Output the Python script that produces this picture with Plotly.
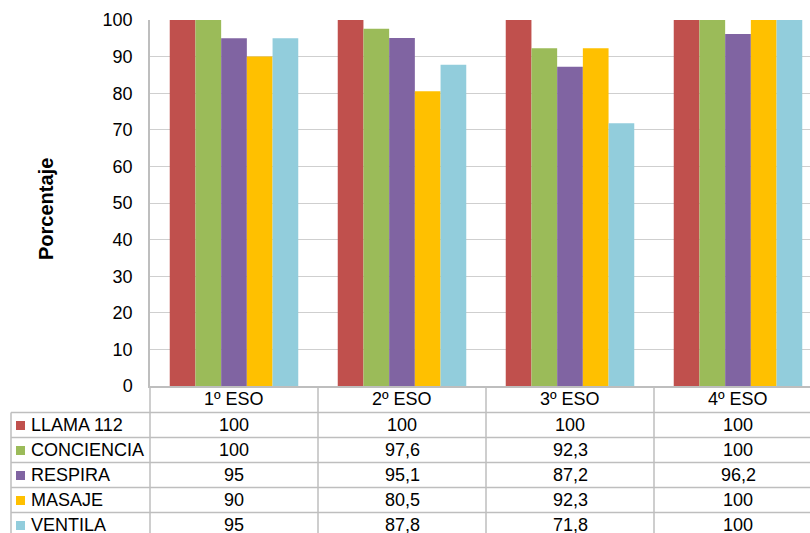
import plotly.graph_objects as go

# Data
cursos = ["1º ESO", "2º ESO", "3º ESO", "4º ESO"]
llama_112 = [100, 100, 100, 100]
conciencia = [100, 97.6, 92.3, 100]
respira = [95, 95.1, 87.2, 96.2]
masaje = [90, 80.5, 92.3, 100]
ventila = [95, 87.8, 71.8, 100]

series_names = ["LLAMA 112", "CONCIENCIA", "RESPIRA", "MASAJE", "VENTILA"]
series_values = [llama_112, conciencia, respira, masaje, ventila]
series_colors = ["#C0504D", "#9BBB59", "#8064A2", "#FFC000", "#92CDDC"]

FONT = "Liberation Sans, Arial, sans-serif"
GRID = "#CFCFCF"
LINE = "#BEBEBE"

# Page geometry (pixels)
W, H = 810, 533
L, T, B = 150, 20, 147
plot_w = W - L
plot_h = H - T - B
cat_w = 168                      # width of one category column
x_max = -0.5 + plot_w / cat_w    # last column runs past the right edge


def fx(px):
    return (px - L) / plot_w


def fy(py):
    return (H - B - py) / plot_h


def fmt(v):
    s = f"{v:g}"
    return s.replace(".", ",")


fig = go.Figure()
for name, vals, col in zip(series_names, series_values, series_colors):
    fig.add_trace(go.Bar(
        x=list(range(len(cursos))), y=vals, name=name,
        marker=dict(color=col, line=dict(width=0)),
    ))

shapes = []
annotations = []

# Table geometry
axis_y = H - B                 # baseline / top of header row
header_bottom = 412.5
row_h = 25
table_left = 11
n_rows = len(series_names)
table_bottom = header_bottom + row_h * n_rows

# vertical column boundaries
for i in range(len(cursos) + 1):
    xb = L + i * cat_w
    shapes.append(dict(type="line", xref="paper", yref="paper",
                       x0=fx(xb), x1=fx(xb), y0=fy(axis_y), y1=fy(table_bottom),
                       line=dict(color=LINE, width=1.5)))
shapes.append(dict(type="line", xref="paper", yref="paper",
                   x0=fx(table_left), x1=fx(table_left),
                   y0=fy(header_bottom), y1=fy(table_bottom),
                   line=dict(color=LINE, width=1.5)))
# horizontal row boundaries
for k in range(n_rows + 1):
    yb = header_bottom + k * row_h
    shapes.append(dict(type="line", xref="paper", yref="paper",
                       x0=fx(table_left), x1=fx(L + len(cursos) * cat_w),
                       y0=fy(yb), y1=fy(yb),
                       line=dict(color=LINE, width=1.5)))

# header: category names
for i, c in enumerate(cursos):
    annotations.append(dict(xref="paper", yref="paper",
                            x=fx(L + (i + 0.5) * cat_w), y=fy((axis_y + header_bottom) / 2),
                            text=c, showarrow=False, xanchor="center", yanchor="middle",
                            font=dict(family=FONT, size=18, color="#000000")))

# rows: legend key, series name, values
for k, (name, vals, col) in enumerate(zip(series_names, series_values, series_colors)):
    cy = header_bottom + k * row_h + row_h / 2
    shapes.append(dict(type="rect", xref="paper", yref="paper",
                       x0=fx(16), x1=fx(25), y0=fy(cy - 4), y1=fy(cy + 5),
                       fillcolor=col, line=dict(width=0)))
    annotations.append(dict(xref="paper", yref="paper", x=fx(29), y=fy(cy),
                            text=name, showarrow=False, xanchor="left", yanchor="middle",
                            font=dict(family=FONT, size=18, color="#000000")))
    for i, v in enumerate(vals):
        annotations.append(dict(xref="paper", yref="paper",
                                x=fx(L + (i + 0.5) * cat_w), y=fy(cy),
                                text=fmt(v), showarrow=False, xanchor="center", yanchor="middle",
                                font=dict(family=FONT, size=18, color="#000000")))

# axis title
annotations.append(dict(xref="paper", yref="paper", x=fx(46), y=fy(209),
                        text="<b>Porcentaje</b>", textangle=-90, showarrow=False,
                        xanchor="center", yanchor="middle",
                        font=dict(family=FONT, size=20, color="#000000")))

fig.update_layout(
    width=W, height=H,
    margin=dict(l=L, r=0, t=T, b=B, pad=0),
    paper_bgcolor="white", plot_bgcolor="white",
    barmode="group", bargap=0.235, bargroupgap=0,
    showlegend=False,
    font=dict(family=FONT, size=18, color="#000000"),
    xaxis=dict(range=[-0.5, x_max], showticklabels=False, ticks="",
               showgrid=False, zeroline=False,
               showline=True, linecolor=LINE, linewidth=1.5),
    yaxis=dict(range=[0, 100], dtick=10, tick0=0,
               showgrid=True, gridcolor=GRID, gridwidth=1,
               zeroline=False, showline=True, linecolor=LINE, linewidth=1.5,
               ticks="", ticklabelstandoff=12,
               tickfont=dict(family=FONT, size=18, color="#000000")),
    shapes=shapes,
    annotations=annotations,
)

fig.write_html("out.html")
